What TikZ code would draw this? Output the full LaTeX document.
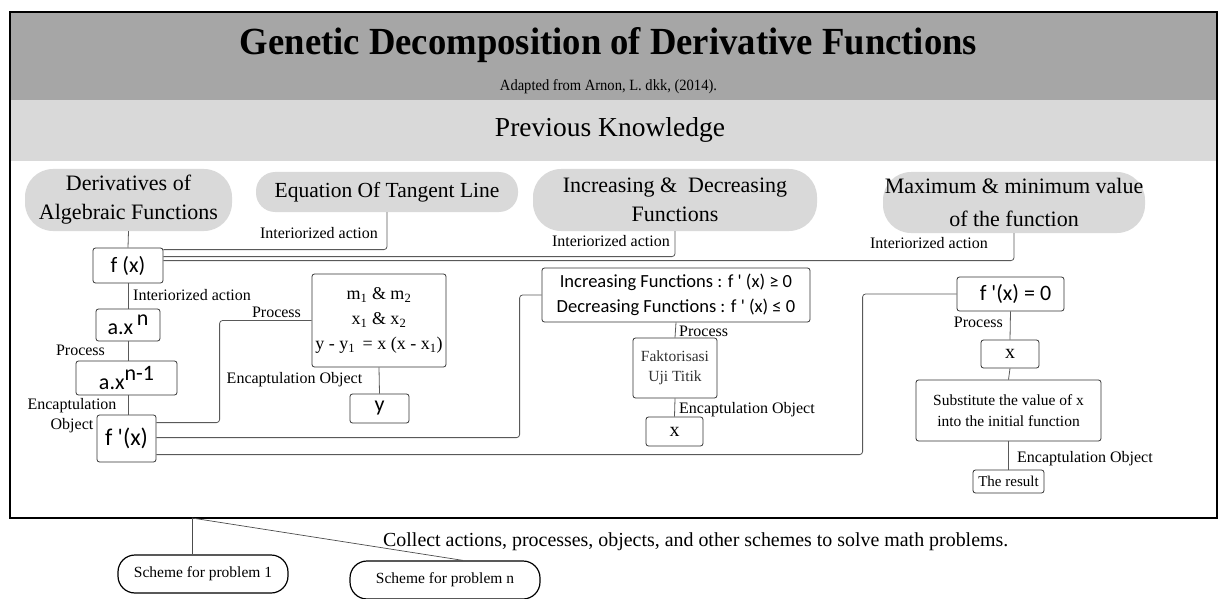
\documentclass[tikz,border=0pt]{standalone}
\usepackage{fontspec}
\setmainfont{Liberation Serif}
\newfontfamily\calibrifont{Carlito}
\usetikzlibrary{calc}
\begin{document}
\begin{tikzpicture}[x=1pt,y=-1pt,
  pill/.style={fill=black!15, rounded corners=28pt, inner sep=0pt, align=center, font=\fontsize{22}{29}\selectfont},
  pillsmall/.style={fill=black!15, rounded corners=19pt, inner sep=0pt, align=center, font=\fontsize{21.5}{26}\selectfont},
  box/.style={draw=black!80, line width=0.8pt, rounded corners=2.5pt, fill=white, inner sep=0pt, align=center},
  sansbox/.style={box, font=\calibrifont\fontsize{22}{26}\selectfont},
  conn/.style={draw=black!65, line width=0.8pt, rounded corners=3pt},
  lbl/.style={inner sep=0pt, font=\fontsize{16}{19}\selectfont, align=center},
  scheme/.style={draw=black, line width=1.2pt, rounded corners=17pt, fill=white, inner sep=0pt, font=\fontsize{15.5}{18}\selectfont},
  thin/.style={draw=black!70, line width=0.7pt}
]
\useasboundingbox (0,0) rectangle (1224,599);
% bands and frame
\fill[black!35] (10,12) rectangle (1217,100);
\fill[black!15] (10,100) rectangle (1217,161);
\draw[line width=2.5pt] (10,12) rectangle (1217,518);
% titles
\node[inner sep=0pt, anchor=base] (title) at (608.5,55) {\resizebox{737pt}{27pt}{\bfseries Genetic Decomposition of Derivative Functions}};
\node[inner sep=0pt, anchor=base] (adapted) at (608.5,91) {\resizebox{217pt}{11pt}{Adapted from Arnon, L. dkk, (2014).}};
\node[inner sep=0pt, anchor=base] (prev) at (610,137) {\resizebox{230pt}{19pt}{Previous Knowledge}};
% previous knowledge pills
\node[pill, minimum width=207pt, minimum height=62pt] (der) at (128.5,200) {Derivatives of\\Algebraic Functions};
\node[pillsmall, minimum width=262pt, minimum height=40pt] (eq) at (387,192) {Equation Of Tangent Line};
\node[pill, minimum width=284pt, minimum height=62pt] (inc) at (675,200) {Increasing \&\ \ Decreasing\\Functions};
\node[pill, minimum width=262pt, minimum height=61pt, font=\fontsize{22}{30}\selectfont] (max) at (1014,202.5) {\raisebox{3pt}{Maximum \& minimum value}\\of the function};
% left column
\node[sansbox, minimum width=70pt, minimum height=35pt] (fx) at (128,265.5) {f (x)};
\node[sansbox, minimum width=64pt, minimum height=32pt] (axn) at (128,325) {a.x\,\raisebox{9pt}{n}};
\node[sansbox, minimum width=101pt, minimum height=34pt] (axn1) at (126.5,378) {a.x\raisebox{9pt}{n-1}};
\node[sansbox, minimum width=59pt, minimum height=47pt, font=\calibrifont\fontsize{24}{28}\selectfont] (fpx) at (126.5,438.5) {f '(x)};
% tangent branch
\node[box, minimum width=134pt, minimum height=93pt, font=\fontsize{18}{25}\selectfont] (mid) at (379,320.5) {m\textsubscript{1} \& m\textsubscript{2}\\x\textsubscript{1} \& x\textsubscript{2}\\y - y\textsubscript{1}\ \,= x (x - x\textsubscript{1})};
\node[sansbox, minimum width=59pt, minimum height=29pt] (ybox) at (379.5,408.5) {y};
% increasing branch
\node[box, minimum width=268pt, minimum height=54pt, font=\calibrifont\fontsize{18.5}{25}\selectfont] (incbox) at (676,295) {Increasing Functions : f ' (x) ≥ 0\\Decreasing Functions : f ' (x) ≤ 0};
\node[box, minimum width=84pt, minimum height=60pt, font=\fontsize{15.5}{20}\selectfont, text=black!80] (fak) at (675,368) {Faktorisasi\\Uji Titik};
\node[box, minimum width=57pt, minimum height=29pt, font=\fontsize{20}{24}\selectfont] (xone) at (674.5,431.5) {x};
% maximum branch
\node[sansbox, minimum width=107pt, minimum height=34pt] (fzero) at (1010.5,294) {\ \ f '(x) = 0};
\node[box, minimum width=58pt, minimum height=28pt, font=\fontsize{20}{24}\selectfont] (xtwo) at (1010,354) {x};
\node[box, minimum width=185pt, minimum height=61pt, font=\fontsize{15.5}{21}\selectfont] (sub) at (1008.5,410.5) {Substitute the value of x\\into the initial function};
\node[box, minimum width=71pt, minimum height=23pt, font=\fontsize{15}{18}\selectfont] (res) at (1008.5,481.5) {The result};
% connectors: previous knowledge to f(x)
\draw[conn] (der.south) -- (fx.north);
\draw[conn] (eq.south) |- ($(fx.north east)+(0,2)$);
\draw[conn] (inc.south) |- ($(fx.north east)+(0,9)$);
\draw[conn] (max.south) |- ($(fx.north east)+(0,13)$);
\node[lbl, anchor=east] (l1) at (378,233) {Interiorized action};
\node[lbl, anchor=east] (l2) at (670,241) {Interiorized action};
\node[lbl, anchor=east] (l3) at (988,243) {Interiorized action};
% left column
\draw[conn] (fx.south) -- (axn.north);
\node[lbl, anchor=west] (l4) at (133,295) {Interiorized action};
\draw[conn] (axn.south) -- ($(axn1.north)+(1.5,0)$);
\node[lbl] (l5) at (80.5,350) {Process};
\draw[conn] ($(axn1.south)+(1.5,0)$) -- ($(fpx.north)+(1.5,0)$);
\node[lbl, font=\fontsize{16}{20}\selectfont] (l6) at (72,416) {Encaptulation\\Object};
% f'(x) branches
\draw[conn] ($(fpx.north east)+(0,8)$) -| ($(mid.west)+(-92,0)$) -- (mid.west);
\node[lbl] (l7) at (276.5,312) {Process};
\draw[conn] (mid.south) -- (ybox.north);
\node[lbl] (l8) at (294.5,380) {Encaptulation Object};
\draw[conn] ($(fpx.north east)+(0,23)$) -| ($(incbox.west)+(-22,0)$) -- (incbox.west);
\draw[conn] (incbox.south) -- (fak.north);
\node[lbl, anchor=west] (l9) at (679,331) {Process};
\draw[conn] (fak.south) -- (xone.north);
\node[lbl, anchor=west] (l10) at (679,410) {Encaptulation Object};
\draw[conn] ($(fpx.north east)+(0,40)$) -| ($(fzero.west)+(-94,0)$) -- (fzero.west);
\draw[conn] (fzero.south) -- (xtwo.north);
\node[lbl, anchor=east] (l11) at (1003,322) {Process};
\draw[conn] (xtwo.south) -- (sub.north);
\draw[conn] (sub.south) -- (res.north);
\node[lbl, anchor=west] (l12) at (1017,459) {Encaptulation Object};
% bottom schemes
\coordinate (src) at (192,518);
\node[inner sep=0pt, anchor=base west] (collect) at (383,546) {\resizebox{625pt}{!}{\fontsize{16}{19}\selectfont Collect actions, processes, objects, and other schemes to solve math problems.}};
\node[scheme, minimum width=170pt, minimum height=38pt] (s1) at (203,574) {Scheme for problem 1};
\node[scheme, minimum width=190pt, minimum height=38pt] (sn) at (445,580) {Scheme for problem n};
\draw[thin] (src) -- (src |- s1.north);
\draw[thin] (src) -- ($(sn.north)+(18,0)$);
\end{tikzpicture}
\end{document}
